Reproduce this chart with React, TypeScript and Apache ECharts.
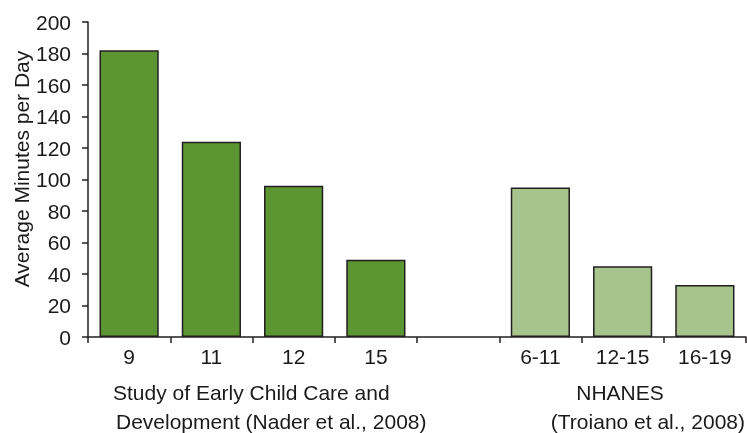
import React, { useEffect, useRef } from "react";
import * as echarts from "echarts";

const categories = ["9", "11", "12", "15", "", "6-11", "12-15", "16-19"];
const minutes: (number | null)[] = [182, 124, 96, 49, null, 95, 45, 33];
const studyGroup = ["nader", "nader", "nader", "nader", "", "nhanes", "nhanes", "nhanes"];
const groupColors: Record<string, string> = { nader: "#5b9632", nhanes: "#a6c48b" };
const yTicks = { min: 0, max: 200, interval: 20 };
const yTitle = "Average Minutes per Day";
const naderLines = ["Study of Early Child Care and", "Development (Nader et al., 2008)"];
const nhanesLines = ["NHANES", "(Troiano et al., 2008)"];

export default function App() {
  const ref = useRef<HTMLDivElement>(null);
  useEffect(() => {
    if (!ref.current) return;
    const chart = echarts.init(ref.current, null, { renderer: "svg" });
    const font = "'Liberation Sans', Arial, Helvetica, sans-serif";
    const textColor = "#1a1a1a";
    chart.setOption({
      animation: false,
      textStyle: { fontFamily: font },
      grid: { left: 88, right: 1, top: 22, bottom: 96 },
      xAxis: {
        type: "category",
        data: categories,
        axisLine: { lineStyle: { color: "#231f20", width: 1.5 } },
        axisTick: { show: true, length: 6, lineStyle: { color: "#231f20", width: 1.5 } },
        axisLabel: { color: textColor, fontSize: 21, margin: 9, fontFamily: font },
      },
      yAxis: {
        type: "value",
        min: yTicks.min,
        max: yTicks.max,
        interval: yTicks.interval,
        splitLine: { show: false },
        axisLine: { show: true, lineStyle: { color: "#231f20", width: 1.5 } },
        axisTick: { show: true, length: 6, lineStyle: { color: "#231f20", width: 1.5 } },
        axisLabel: { color: textColor, fontSize: 21, margin: 17, fontFamily: font },
      },
      series: [
        {
          type: "bar",
          barCategoryGap: "28%",
          data: minutes.map((v, i) => ({
            value: v,
            itemStyle: {
              color: groupColors[studyGroup[i]] || "#fff",
              borderColor: "#231f20",
              borderWidth: 1.5,
            },
          })),
        },
      ],
      graphic: [
        {
          type: "text",
          x: 21,
          y: 169,
          rotation: Math.PI / 2,
          style: { text: yTitle, font: `21px ${font}`, fill: textColor, align: "center", verticalAlign: "middle" },
        },
        {
          type: "text",
          x: 113,
          y: 392,
          style: { text: naderLines[0], font: `21px ${font}`, fill: textColor, align: "left", verticalAlign: "middle" },
        },
        {
          type: "text",
          x: 116,
          y: 421,
          style: { text: naderLines[1], font: `21px ${font}`, fill: textColor, align: "left", verticalAlign: "middle" },
        },
        {
          type: "text",
          x: 620,
          y: 392,
          style: { text: nhanesLines[0], font: `21px ${font}`, fill: textColor, align: "center", verticalAlign: "middle" },
        },
        {
          type: "text",
          x: 745,
          y: 421,
          style: { text: nhanesLines[1], font: `21px ${font}`, fill: textColor, align: "right", verticalAlign: "middle" },
        },
      ],
    });
    return () => chart.dispose();
  }, []);
  return <div ref={ref} style={{ width: 747, height: 433, position: "fixed", left: 0, top: 0 }} />;
}
